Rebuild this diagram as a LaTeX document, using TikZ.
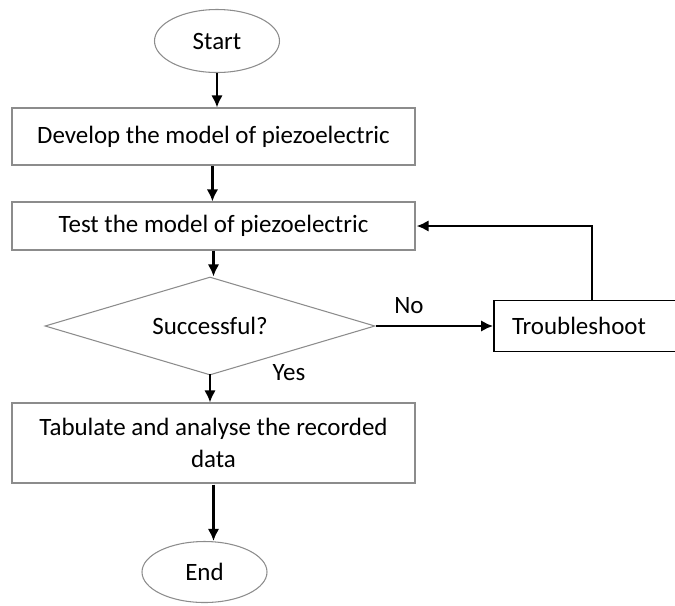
\documentclass[tikz,border=0pt]{standalone}
\usepackage{fontspec}
\setmainfont{Carlito}
\usepackage{tikz}
\usetikzlibrary{arrows.meta,shapes}
\usepackage{xcolor}

\begin{document}
\begin{tikzpicture}[scale=0.2]
\tikzstyle{every node}+=[font=\fontsize{14.2}{18.2}\selectfont, text=black]
\tikzstyle{terminal}=[draw=black!45, line width=0.6pt, ellipse, minimum width=2.5cm, minimum height=1.26cm, inner sep=0pt]
\tikzstyle{process}=[draw=black!45, line width=0.6pt, rectangle, minimum width=8.06cm, inner sep=0pt, align=center]
\tikzstyle{decide}=[draw=black!45, line width=0.6pt, diamond, aspect=3.4, minimum width=6.6cm, minimum height=1.96cm, inner sep=0pt]
\tikzstyle{arr}=[black, line width=1.7pt, -{Latex[length=2.4mm,width=2.3mm]}]
\clip (0,0) rectangle (67.5,-60.5);
\fill [white] (0,0) rectangle (67.5,-60.5);
\node [terminal] (start) at (21.7,-4.1) {Start};
\node [process, minimum height=1.14cm] (develop) at (21.35,-13.65) {Develop the model of piezoelectric};
\node [process, minimum height=0.96cm] (test) at (21.35,-22.6) {Test the model of piezoelectric};
\node [decide] (check) at (21,-32.6) {Successful?};
\node [draw=black, line width=1pt, rectangle, minimum width=3.92cm, minimum height=1.02cm, inner xsep=0.36cm, text width=3.2cm, align=left] (trouble) at (59.2,-32.6) {Troubleshoot};
\node [process, minimum height=1.6cm] (tabulate) at (21.35,-44.3) {Tabulate and analyse the recorded\\data};
\node [terminal, minimum height=1.22cm] (finish) at (20.45,-57.2) {End};
\node (yeslbl) at (28.9,-37.3) {Yes};
\draw [arr] ([yshift=-1pt]start.south) -- (start.south |- develop.north);
\draw [arr] ([xshift=-3pt,yshift=-1pt]develop.south) -- ([xshift=-3pt]develop.south |- test.north);
\draw [arr] (test.south) -- (test.south |- check.north);
\draw [arr] ([yshift=5pt]check.south) -- (check.south |- tabulate.north);
\draw [arr] ([yshift=-3pt]tabulate.south) -- (tabulate.south |- finish.north);
\draw [arr] ([xshift=2pt]check.east) -- node [pos=0.28, above=3pt] {No} (check.east -| trouble.west);
\draw [arr] (trouble.north) |- ([xshift=3pt]test.east);
\end{tikzpicture}
\end{document}
